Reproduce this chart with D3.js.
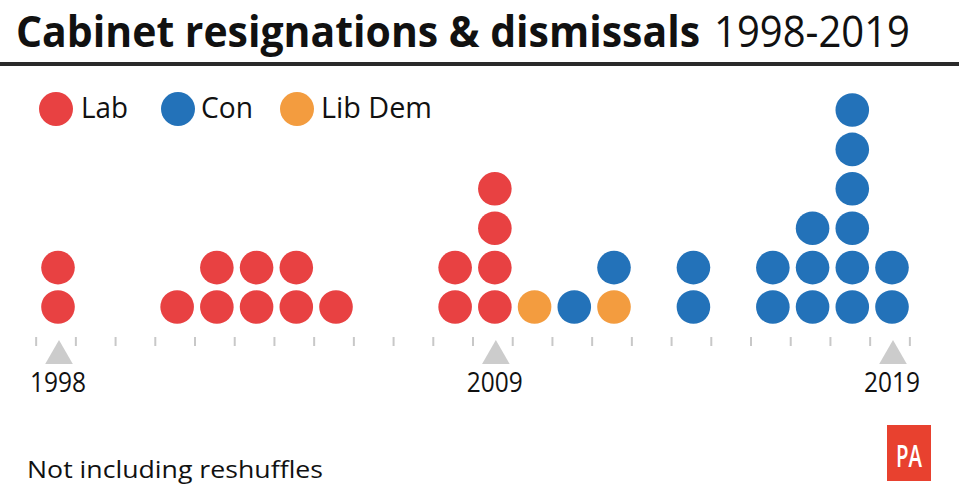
<!DOCTYPE html>
<html>
<head>
<meta charset="utf-8">
<script src="https://cdn.jsdelivr.net/npm/d3@7"></script>
<style>
  html, body { margin: 0; padding: 0; background: #fff; }
  svg { display: block; font-family: "Open Sans", "Noto Sans", sans-serif; }
</style>
</head>
<body>
<svg id="chart" width="959" height="487"></svg>
<script>
// ---- Data ----
const years  = [1998, 2001, 2002, 2003, 2004, 2005, 2008, 2009, 2010, 2011, 2012, 2014, 2016, 2017, 2018, 2019];
const lab    = [2, 1, 2, 2, 2, 1, 2, 4, 0, 0, 0, 0, 0, 0, 0, 0];
const libDem = [0, 0, 0, 0, 0, 0, 0, 0, 1, 0, 1, 0, 0, 0, 0, 0];
const con    = [0, 0, 0, 0, 0, 0, 0, 0, 0, 1, 1, 2, 2, 3, 6, 2];
const parties = ["Lab", "Lib Dem", "Con"];          // stacking order (bottom to top)
const legendParties = ["Lab", "Con", "Lib Dem"];    // legend order
const markedYears = [1998, 2009, 2019];
const titleBold = "Cabinet resignations & dismissals";
const titleRegular = "1998-2019";
const footnote = "Not including reshuffles";

const colors = { "Lab": "#e84142", "Con": "#2372b9", "Lib Dem": "#f39c3f" };

// ---- Build dot list ----
const seriesByParty = { "Lab": lab, "Lib Dem": libDem, "Con": con };
const dots = [];
years.forEach((yr, i) => {
  let level = 0;
  parties.forEach(p => {
    for (let k = 0; k < seriesByParty[p][i]; k++) {
      dots.push({ year: yr, party: p, level: level++ });
    }
  });
});

const svg = d3.select("#chart");

// ---- Scales ----
const x = d3.scaleLinear().domain([1998, 2019]).range([58, 892]);
const y = d3.scaleLinear().domain([0, 5]).range([307, 110]);
const r = 16.8;

// ---- Title ----
svg.append("text")
  .attr("x", 16).attr("y", 47)
  .attr("fill", "#111")
  .attr("font-weight", 700).attr("font-size", 43)
  .attr("textLength", 684).attr("lengthAdjust", "spacingAndGlyphs")
  .text(titleBold);
svg.append("text")
  .attr("x", 714).attr("y", 47)
  .attr("fill", "#111")
  .attr("font-weight", 400).attr("font-size", 43)
  .attr("textLength", 196).attr("lengthAdjust", "spacingAndGlyphs")
  .text(titleRegular);

svg.append("rect")
  .attr("x", 0).attr("y", 62).attr("width", 959).attr("height", 4)
  .attr("fill", "#2a2a2a");

// ---- Legend ----
const legendPos = [{ cx: 56, tx: 81 }, { cx: 178, tx: 201 }, { cx: 297, tx: 321 }];
const legendW = [47, 52, 111];
const legend = svg.append("g");
legendParties.forEach((p, i) => {
  legend.append("circle")
    .attr("cx", legendPos[i].cx).attr("cy", 109).attr("r", 17)
    .attr("fill", colors[p]);
  legend.append("text")
    .attr("x", legendPos[i].tx).attr("y", 118)
    .attr("font-size", 29).attr("fill", "#111")
    .attr("textLength", legendW[i]).attr("lengthAdjust", "spacingAndGlyphs")
    .text(p);
});

// ---- Axis ticks (between years) ----
const tickYears = d3.range(1997.45, 2020, 1);
svg.append("g").selectAll("line")
  .data(tickYears).join("line")
  .attr("x1", d => x(d)).attr("x2", d => x(d))
  .attr("y1", 337).attr("y2", 346)
  .attr("stroke", "#c8c8c8").attr("stroke-width", 2);

// ---- Triangles & year labels ----
const tri = d3.symbol().type(d3.symbolTriangle).size(330);
svg.append("g").selectAll("path")
  .data(markedYears).join("path")
  .attr("d", tri)
  .attr("transform", d => `translate(${x(d) + 1},${356})`)
  .attr("fill", "#cccccc");

svg.append("g").selectAll("text")
  .data(markedYears).join("text")
  .attr("x", d => x(d)).attr("y", 392)
  .attr("text-anchor", "middle")
  .attr("font-size", 27).attr("fill", "#111")
  .attr("textLength", 56).attr("lengthAdjust", "spacingAndGlyphs")
  .text(d => d);

// ---- Dots ----
svg.append("g").selectAll("circle")
  .data(dots).join("circle")
  .attr("cx", d => x(d.year))
  .attr("cy", d => y(d.level))
  .attr("r", r)
  .attr("fill", d => colors[d.party]);

// ---- Footnote ----
svg.append("text")
  .attr("x", 27).attr("y", 478)
  .attr("font-size", 23).attr("fill", "#111")
  .attr("textLength", 296).attr("lengthAdjust", "spacingAndGlyphs")
  .text(footnote);

// ---- PA logo ----
svg.append("rect")
  .attr("x", 887).attr("y", 425).attr("width", 44).attr("height", 56)
  .attr("fill", "#e8412f");
svg.append("text")
  .attr("x", 909).attr("y", 467)
  .attr("text-anchor", "middle")
  .attr("font-size", 30).attr("font-weight", 600).attr("fill", "#fff")
  .attr("textLength", 26).attr("lengthAdjust", "spacingAndGlyphs")
  .text("PA");
</script>
</body>
</html>
